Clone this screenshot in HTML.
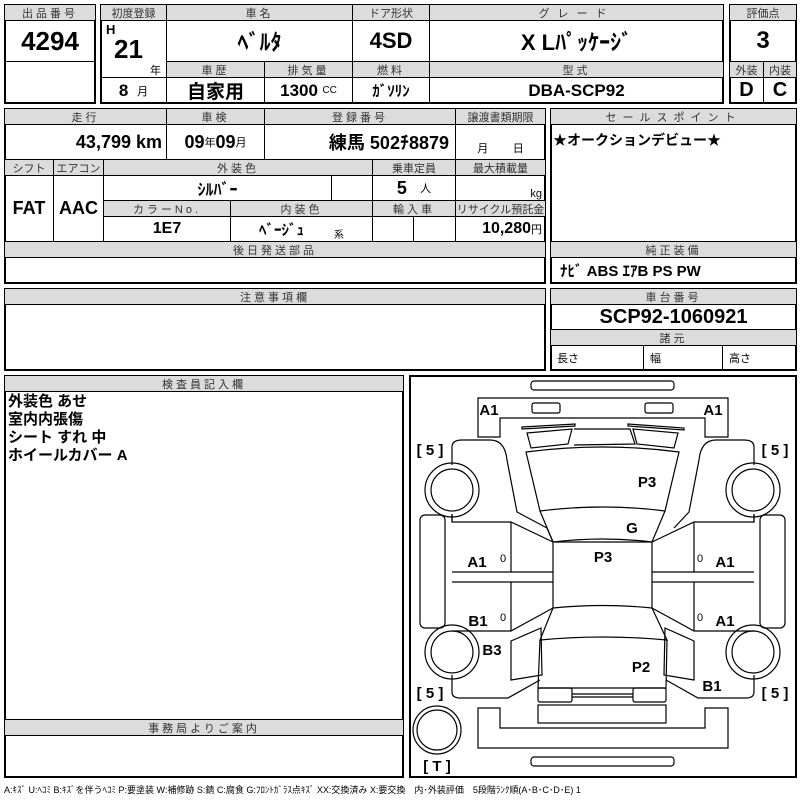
<!DOCTYPE html>
<html><head><meta charset="utf-8">
<style>
body{margin:0;width:800px;height:800px;background:#fff;position:relative;overflow:hidden;font-family:"Liberation Sans","Noto Sans CJK JP",sans-serif;}
.c{position:absolute;border:1px solid #000;box-sizing:border-box;display:flex;align-items:center;justify-content:center;white-space:nowrap;}
.h{background:#dcdcdc;font-size:11px;color:#333;letter-spacing:3px;}
.v{font-weight:bold;font-size:18px;}
.box{position:absolute;border:2px solid #000;box-sizing:border-box;}
</style></head><body>
<!-- Box1 -->
<div class="box" style="left:4px;top:4px;width:92px;height:100px"></div>
<div class="c h" style="left:4px;top:4px;width:92px;height:17px">出品番号</div>
<div class="c v" style="left:4px;top:20px;width:92px;height:42px;font-size:26px">4294</div>
<!-- Box2 -->
<div class="box" style="left:100px;top:4px;width:624px;height:100px"></div>
<div class="c h" style="left:100px;top:4px;width:67px;height:17px;letter-spacing:0">初度登録</div>
<div class="c h" style="left:166px;top:4px;width:187px;height:17px">車名</div>
<div class="c h" style="left:352px;top:4px;width:78px;height:17px;letter-spacing:0">ドア形状</div>
<div class="c h" style="left:429px;top:4px;width:295px;height:17px;letter-spacing:8px">グレード</div>
<div class="c" style="left:100px;top:20px;width:67px;height:58px"></div>
<div style="position:absolute;left:106px;top:22px;font-weight:bold;font-size:13px">H</div>
<div style="position:absolute;left:114px;top:34px;font-weight:bold;font-size:26px">21</div>
<div style="position:absolute;left:150px;top:62px;font-size:11px">年</div>
<div class="c v" style="left:166px;top:20px;width:187px;height:42px;font-size:22px">ﾍﾞﾙﾀ</div>
<div class="c v" style="left:352px;top:20px;width:78px;height:42px;font-size:22px">4SD</div>
<div class="c v" style="left:429px;top:20px;width:295px;height:42px;font-size:22px">X Lﾊﾟｯｹｰｼﾞ</div>
<div class="c h" style="left:166px;top:61px;width:99px;height:17px">車歴</div>
<div class="c h" style="left:264px;top:61px;width:89px;height:17px">排気量</div>
<div class="c h" style="left:352px;top:61px;width:78px;height:17px">燃料</div>
<div class="c h" style="left:429px;top:61px;width:295px;height:17px">型式</div>
<div class="c" style="left:100px;top:77px;width:67px;height:27px"><b style="font-size:17px">8</b>&nbsp;&nbsp;<span style="font-size:11px">月</span></div>
<div class="c v" style="left:166px;top:77px;width:99px;height:27px;font-size:19px">自家用</div>
<div class="c" style="left:264px;top:77px;width:89px;height:27px"><b style="font-size:17px">1300</b>&nbsp;<span style="font-size:10px">CC</span></div>
<div class="c v" style="left:352px;top:77px;width:78px;height:27px;font-size:15px">ｶﾞｿﾘﾝ</div>
<div class="c v" style="left:429px;top:77px;width:295px;height:27px;font-size:17px">DBA-SCP92</div>
<!-- Box3 -->
<div class="box" style="left:729px;top:4px;width:68px;height:100px"></div>
<div class="c h" style="left:729px;top:4px;width:68px;height:17px;letter-spacing:0">評価点</div>
<div class="c v" style="left:729px;top:20px;width:68px;height:42px;font-size:24px">3</div>
<div class="c h" style="left:729px;top:61px;width:35px;height:17px;letter-spacing:0">外装</div>
<div class="c h" style="left:763px;top:61px;width:34px;height:17px;letter-spacing:0">内装</div>
<div class="c v" style="left:729px;top:77px;width:35px;height:27px;font-size:20px">D</div>
<div class="c v" style="left:763px;top:77px;width:34px;height:27px;font-size:20px">C</div>
<!-- Box4 -->
<div class="box" style="left:4px;top:108px;width:542px;height:176px"></div>
<div class="c h" style="left:4px;top:108px;width:163px;height:17px">走行</div>
<div class="c h" style="left:166px;top:108px;width:99px;height:17px">車検</div>
<div class="c h" style="left:264px;top:108px;width:192px;height:17px">登録番号</div>
<div class="c h" style="left:455px;top:108px;width:91px;height:17px;letter-spacing:0">譲渡書類期限</div>
<div class="c" style="left:4px;top:124px;width:163px;height:36px;justify-content:flex-end;padding-right:4px"><b style="font-size:18px">43,799 km</b></div>
<div class="c" style="left:166px;top:124px;width:99px;height:36px"><b style="font-size:18px">09</b><span style="font-size:11px">年</span><b style="font-size:18px">09</b><span style="font-size:11px">月</span></div>
<div class="c v" style="left:264px;top:124px;width:192px;height:36px;justify-content:flex-end;padding-right:6px">練馬 502ﾁ8879</div>
<div class="c" style="left:455px;top:124px;width:91px;height:36px;align-items:flex-end;padding-bottom:3px;font-size:11px">月&nbsp;&nbsp;&nbsp;&nbsp;&nbsp;&nbsp;&nbsp;&nbsp;日</div>
<div class="c h" style="left:4px;top:159px;width:50px;height:17px;letter-spacing:0">シフト</div>
<div class="c h" style="left:53px;top:159px;width:51px;height:17px;letter-spacing:0">エアコン</div>
<div class="c h" style="left:103px;top:159px;width:270px;height:17px">外装色</div>
<div class="c h" style="left:372px;top:159px;width:84px;height:17px;letter-spacing:0">乗車定員</div>
<div class="c h" style="left:455px;top:159px;width:91px;height:17px;letter-spacing:0">最大積載量</div>
<div class="c v" style="left:4px;top:175px;width:50px;height:67px">FAT</div>
<div class="c v" style="left:53px;top:175px;width:51px;height:67px">AAC</div>
<div class="c v" style="left:103px;top:175px;width:229px;height:26px;font-size:16px">ｼﾙﾊﾞｰ</div>
<div class="c" style="left:331px;top:175px;width:42px;height:26px"></div>
<div class="c" style="left:372px;top:175px;width:84px;height:26px"><b style="font-size:18px">5</b>&nbsp;&nbsp;&nbsp;<span style="font-size:11px">人</span></div>
<div class="c" style="left:455px;top:175px;width:91px;height:26px;justify-content:flex-end;padding-right:3px;font-size:11px;align-items:flex-end">kg</div>
<div class="c h" style="left:103px;top:200px;width:128px;height:17px">カラーNo.</div>
<div class="c h" style="left:230px;top:200px;width:143px;height:17px">内装色</div>
<div class="c h" style="left:372px;top:200px;width:84px;height:17px">輸入車</div>
<div class="c h" style="left:455px;top:200px;width:91px;height:17px;letter-spacing:0">リサイクル預託金</div>
<div class="c v" style="left:103px;top:216px;width:128px;height:26px;font-size:16px">1E7</div>
<div class="c" style="left:230px;top:216px;width:143px;height:26px"><b style="font-size:15px">ﾍﾞｰｼﾞｭ</b><span style="font-size:10px;margin-left:30px;margin-top:8px">系</span></div>
<div class="c" style="left:372px;top:216px;width:42px;height:26px"></div>
<div class="c" style="left:413px;top:216px;width:43px;height:26px"></div>
<div class="c" style="left:455px;top:216px;width:91px;height:26px;justify-content:flex-end;padding-right:3px"><b style="font-size:16px">10,280</b><span style="font-size:11px">円</span></div>
<div class="c h" style="left:4px;top:241px;width:542px;height:17px">後日発送部品</div>
<!-- Box5 -->
<div class="box" style="left:550px;top:108px;width:247px;height:176px"></div>
<div class="c h" style="left:550px;top:108px;width:247px;height:17px;letter-spacing:6px">セールスポイント</div>
<div style="position:absolute;left:553px;top:130px;font-weight:bold;font-size:14px">★オークションデビュー★</div>
<div class="c h" style="left:550px;top:241px;width:247px;height:17px">純正装備</div>
<div style="position:absolute;left:560px;top:260px;font-weight:bold;font-size:15px">ﾅﾋﾞ ABS ｴｱB PS PW</div>
<!-- Box6 -->
<div class="box" style="left:4px;top:288px;width:542px;height:83px"></div>
<div class="c h" style="left:4px;top:288px;width:542px;height:17px">注意事項欄</div>
<!-- Box7 -->
<div class="box" style="left:550px;top:288px;width:247px;height:83px"></div>
<div class="c h" style="left:550px;top:288px;width:247px;height:17px">車台番号</div>
<div class="c v" style="left:550px;top:304px;width:247px;height:26px;font-size:20px">SCP92-1060921</div>
<div class="c h" style="left:550px;top:329px;width:247px;height:17px">諸元</div>
<div class="c" style="left:550px;top:345px;width:94px;height:26px;justify-content:flex-start;padding-left:6px;font-size:11px">長さ</div>
<div class="c" style="left:643px;top:345px;width:80px;height:26px;justify-content:flex-start;padding-left:6px;font-size:11px">幅</div>
<div class="c" style="left:722px;top:345px;width:75px;height:26px;justify-content:flex-start;padding-left:6px;font-size:11px">高さ</div>
<!-- Box8 -->
<div class="box" style="left:4px;top:375px;width:400px;height:403px"></div>
<div class="c h" style="left:4px;top:375px;width:400px;height:17px">検査員記入欄</div>
<div style="position:absolute;left:8px;top:393px;font-weight:bold;font-size:15px;line-height:18px">外装色 あせ<br>室内内張傷<br>シート すれ 中<br>ホイールカバー A</div>
<div class="c h" style="left:4px;top:719px;width:400px;height:17px">事務局よりご案内</div>
<!-- Diagram -->
<div class="box" style="left:409px;top:375px;width:388px;height:403px"></div>
<svg style="position:absolute;left:0;top:0" width="800" height="800" fill="none" stroke="#000" stroke-width="1.2">
<rect x="531" y="381" width="143" height="9" rx="3"/>
<path d="M478,437 L478,398 L728,398 L728,437 L705,437 L705,418 L500,418 L500,437 Z"/>
<rect x="532" y="403" width="28" height="10" rx="2"/>
<rect x="645" y="403" width="28" height="10" rx="2"/>
<path d="M522,427 L575,424 L575,426 L522,429Z M527,433 L572,429 L568,444 L531,448Z M574,429 L630,429 L635,444 L574,445"/>
<path d="M628,424 L684,428 L684,430 L628,426Z M633,429 L678,433 L674,448 L637,444Z"/>
<path d="M526,452 Q603,442 679,452 L665,511 Q603,503 540,511 Z"/>
<path d="M540,511 L553,542 Q603,536 652,542 L665,511"/>
<path d="M553,542 L652,542 L652,608 Q603,603 553,608 Z"/>
<path d="M553,608 L540,640 Q603,634 667,640 L652,608"/>
<path d="M540,640 L538,688 L666,688 L667,640"/>
<rect x="538" y="688" width="34" height="14" rx="2"/><rect x="633" y="688" width="33" height="14" rx="2"/>
<path d="M572,694 L633,694 M572,697 L633,697"/>
<rect x="538" y="705" width="128" height="18"/>
<path d="M478,708 L500,708 L500,728 L705,728 L705,708 L728,708 L728,748 L478,748 Z"/>
<rect x="531" y="757" width="143" height="9" rx="3"/>
<!-- left body -->
<path d="M452,465 L452,447 Q452,440 462,440 L490,440 Q505,440 507,460 L517,512 L547,528 L553,542"/>
<path d="M674,528 L689,512 L699,460 Q701,440 716,440 L744,440 Q754,440 754,447 L754,465"/>
<path d="M452,514 L452,522 L511,522 L553,542 M511,522 L511,572 M452,572 L553,572 M452,582 L553,582 M511,582 L511,631 M452,631 L511,631 L553,608"/>
<path d="M754,514 L754,522 L694,522 L652,542 M694,522 L694,572 M754,572 L652,572 M754,582 L652,582 M694,582 L694,631 M754,631 L694,631 L652,608"/>
<path d="M452,522 L452,514 M754,522 L754,514"/>
<path d="M511,641 L541,628 L542,675 L511,680 Z"/>
<path d="M694,641 L665,628 L664,675 L694,680 Z"/>
<path d="M452,675 L452,692 Q452,698 460,698 L508,698 L540,680"/>
<path d="M754,675 L754,692 Q754,698 746,698 L698,698 L666,680"/>
<rect x="420" y="515" width="25" height="113" rx="5"/>
<rect x="760" y="515" width="25" height="113" rx="5"/>
<circle cx="452" cy="490" r="27"/><circle cx="452" cy="490" r="21"/>
<circle cx="753" cy="490" r="27"/><circle cx="753" cy="490" r="21"/>
<circle cx="452" cy="652" r="27"/><circle cx="452" cy="652" r="21"/>
<circle cx="753" cy="652" r="27"/><circle cx="753" cy="652" r="21"/>
<circle cx="437" cy="730" r="24"/><circle cx="437" cy="730" r="20"/>
<g fill="#000" stroke="none" font-family="Liberation Sans" font-weight="bold" font-size="15" text-anchor="middle">
<text x="489" y="415">A1</text><text x="713" y="415">A1</text>
<text x="430" y="455">[ 5 ]</text><text x="775" y="455">[ 5 ]</text>
<text x="430" y="698">[ 5 ]</text><text x="775" y="698">[ 5 ]</text>
<text x="647" y="487">P3</text><text x="632" y="533">G</text><text x="603" y="562">P3</text>
<text x="477" y="567">A1</text><text x="725" y="567">A1</text>
<text x="478" y="626">B1</text><text x="725" y="626">A1</text>
<text x="492" y="655">B3</text><text x="641" y="672">P2</text><text x="712" y="691">B1</text>
<text x="437" y="771">[ T ]</text>
<g font-weight="normal" font-size="11"><text x="503" y="562">0</text><text x="700" y="562">0</text><text x="503" y="621">0</text><text x="700" y="621">0</text></g>
</g>
</svg>
<div style="position:absolute;left:4px;top:783px;font-size:9px;white-space:nowrap">A:ｷｽﾞ U:ﾍｺﾐ B:ｷｽﾞを伴うﾍｺﾐ P:要塗装 W:補修跡 S:錆 C:腐食 G:ﾌﾛﾝﾄｶﾞﾗｽ点ｷｽﾞ XX:交換済み X:要交換　内･外装評価　5段階ﾗﾝｸ順(A･B･C･D･E) 1</div>
</body></html>
